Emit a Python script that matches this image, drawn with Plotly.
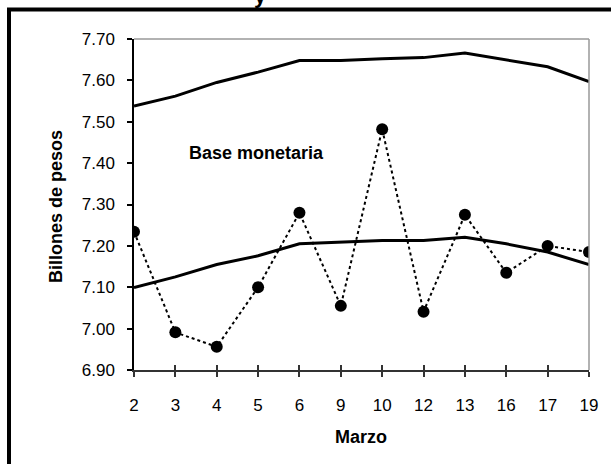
import plotly.graph_objects as go

dias = ["2", "3", "4", "5", "6", "9", "10", "12", "13", "16", "17", "19"]
banda_superior = [7.538, 7.562, 7.595, 7.620, 7.648, 7.648, 7.652, 7.655, 7.666, 7.649, 7.633, 7.597]
banda_inferior = [7.099, 7.125, 7.155, 7.176, 7.205, 7.209, 7.213, 7.213, 7.221, 7.205, 7.185, 7.155]
base_monetaria = [7.234, 6.991, 6.956, 7.100, 7.280, 7.055, 7.482, 7.041, 7.275, 7.135, 7.200, 7.185]
y_ticks = [6.90, 7.00, 7.10, 7.20, 7.30, 7.40, 7.50, 7.60, 7.70]

FONT = "Liberation Sans, Arial, sans-serif"

W, H = 611, 464
L, T = 134, 39
PW, PH = 455, 331
R, B = W - L - PW, H - T - PH


def px(x):
    return (x - 134) / PW


def py(y):
    return (370 - y) / PH


fig = go.Figure()
fig.add_trace(go.Scatter(x=dias, y=banda_superior, mode="lines",
                         line=dict(color="black", width=3), showlegend=False))
fig.add_trace(go.Scatter(x=dias, y=banda_inferior, mode="lines",
                         line=dict(color="black", width=3), showlegend=False))
fig.add_trace(go.Scatter(x=dias, y=base_monetaria, mode="lines+markers",
                         line=dict(color="black", width=2, dash="dot"),
                         marker=dict(color="black", size=12), showlegend=False))

fig.update_layout(
    width=W, height=H,
    margin=dict(l=L, r=R, t=T, b=B),
    paper_bgcolor="white", plot_bgcolor="white",
    font=dict(family=FONT, size=17, color="black"),
    xaxis=dict(type="category", categoryorder="array", categoryarray=dias,
               range=[0, 11], showline=True, linecolor="#333", linewidth=2,
               ticks="outside", ticklen=5, tickcolor="#333", tickwidth=1.5,
               showgrid=False, zeroline=False, ticklabelstandoff=14,
               tickfont=dict(size=17)),
    xaxis2=dict(overlaying="x", range=[0, 11], tickvals=list(range(len(dias))),
                showticklabels=False, ticks="inside", ticklen=5, tickcolor="#333",
                tickwidth=1.5, showgrid=False, zeroline=False, side="bottom",
                showline=False),
    yaxis=dict(range=[6.90, 7.70], tickvals=y_ticks, tickformat=".2f",
               showline=True, linecolor="black", linewidth=1.5,
               ticks="outside", ticklen=5, tickcolor="black", tickwidth=1.5,
               showgrid=False, zeroline=False, ticklabelstandoff=9,
               tickfont=dict(size=17)),
    shapes=[
        dict(type="line", xref="paper", yref="paper", x0=0, x1=1, y0=1, y1=1,
             line=dict(color="#999", width=1.5)),
        dict(type="line", xref="paper", yref="paper", x0=1, x1=1, y0=0, y1=1,
             line=dict(color="#999", width=1.5)),
        dict(type="path", xref="paper", yref="paper",
             path=f"M {px(9)},{py(480)} L {px(9)},{py(9.5)} L {px(640)},{py(9.5)}",
             line=dict(color="black", width=4)),
    ],
    annotations=[
        dict(text="<b>Base monetaria</b>", xref="paper", yref="paper",
             x=px(187), y=py(153), xanchor="left", yanchor="middle",
             showarrow=False, font=dict(size=18)),
        dict(text="<b>Marzo</b>", xref="paper", yref="paper",
             x=px(361), y=py(437), xanchor="center", yanchor="middle",
             showarrow=False, font=dict(size=18)),
        dict(text="<b>Billones de pesos</b>", xref="paper", yref="paper",
             x=px(56), y=py(207), xanchor="center", yanchor="middle",
             textangle=-90, showarrow=False, font=dict(size=18)),
        dict(text="<b>y</b>", xref="paper", yref="paper",
             x=px(260), y=py(-5), xanchor="center", yanchor="middle",
             showarrow=False, font=dict(size=22)),
    ],
)
fig.add_trace(go.Scatter(x=[None], y=[None], xaxis="x2", showlegend=False, hoverinfo="skip"))

fig.write_html("out.html", config={"displayModeBar": False},
               post_script="document.body.style.margin='0';")
